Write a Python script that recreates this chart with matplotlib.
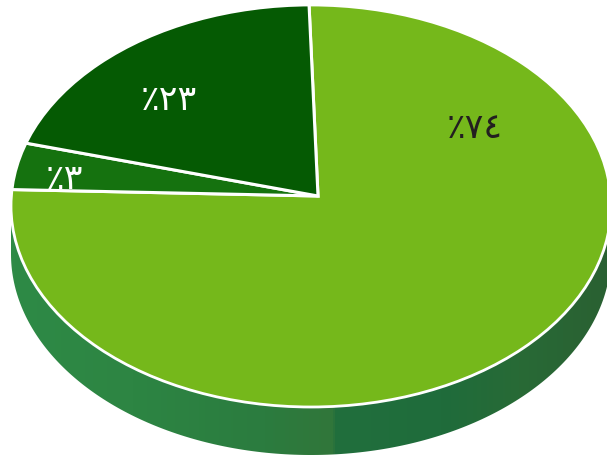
import numpy as np
import matplotlib
matplotlib.use("Agg")
import matplotlib.pyplot as plt
from matplotlib.colors import LinearSegmentedColormap
from matplotlib.patches import Ellipse, Polygon

# printed labels, and the share each slice takes up in the tilted picture
percent_values = [74, 3, 23]
slice_shares = [76.0, 3.7, 20.3]
slice_colors = ["#75b81b", "#15720f", "#055a03"]
label_colors = ["#231f20", "white", "white"]
label_pos = [(475, 129), (64, 180), (169, 101)]

# wall shading, left to right
wall_stops = [0.0, 0.2, 0.42, 0.535, 0.54, 0.72, 0.85, 1.0]
wall_colors = ["#2e8a46", "#2d8543", "#2b7c3f", "#31763a", "#216f3d", "#1f6c3b", "#286a36", "#2a6032"]

W, H = 607, 456
cx, cy, rx, ry = 311, 207, 300, 201
apex = (318, 197)
depth = 48


def to_persian(n):
    return "٪" + "".join(chr(0x0660 + int(c)) for c in str(n))


fig = plt.figure(figsize=(W / 100, H / 100), dpi=100)

back = fig.add_axes([0, 0, 1, 1])
back.set_xlim(0, W)
back.set_ylim(H, 0)
back.axis("off")

# side wall
cmap = LinearSegmentedColormap.from_list("wall", list(zip(wall_stops, wall_colors)))
grad = np.linspace(0, 1, 300).reshape(1, -1)
img = back.imshow(grad, cmap=cmap, extent=(cx - rx, cx + rx, H, 0), aspect="auto")
back.set_xlim(0, W)
back.set_ylim(H, 0)
t = np.linspace(0, np.pi, 200)
outline = np.column_stack([cx + rx * np.cos(t), cy + depth + ry * np.sin(t)])
outline = np.vstack([[cx + rx, cy], outline, [cx - rx, cy]])
clip = Polygon(outline, closed=True, transform=back.transData, fc="none", ec="none")
back.add_patch(clip)
img.set_clip_path(clip)

# top face, wedges grow from the apex and get cut by the ellipse
top = fig.add_axes([(cx - rx) / W, 1 - (cy + ry) / H, 2 * rx / W, 2 * ry / H])
centre = ((apex[0] - cx) / rx, (cy - apex[1]) / ry)
wedges, _ = top.pie(slice_shares, colors=slice_colors, startangle=91.8, counterclock=False,
                    center=centre, radius=1.3,
                    wedgeprops={"edgecolor": "white", "linewidth": 2.2})
top.set_aspect("auto")
top.set_xlim(-1, 1)
top.set_ylim(-1, 1)
top.patch.set_alpha(0)

face = Ellipse((0, 0), 2, 2, transform=top.transData, fc="none", ec="none")
top.add_patch(face)
for w in wedges:
    w.set_clip_on(True)
    w.set_clip_path(face)
top.add_patch(Ellipse((0, 0), 2, 2, fc="none", ec="white", lw=2, clip_on=False))

labels = fig.add_axes([0, 0, 1, 1])
labels.set_xlim(0, W)
labels.set_ylim(H, 0)
labels.axis("off")
for val, pos, col in zip(percent_values, label_pos, label_colors):
    labels.text(pos[0], pos[1], to_persian(val), color=col, fontsize=25,
                ha="center", va="center", family=["Noto Sans", "DejaVu Sans"])

fig.savefig("out.png", dpi=100)
